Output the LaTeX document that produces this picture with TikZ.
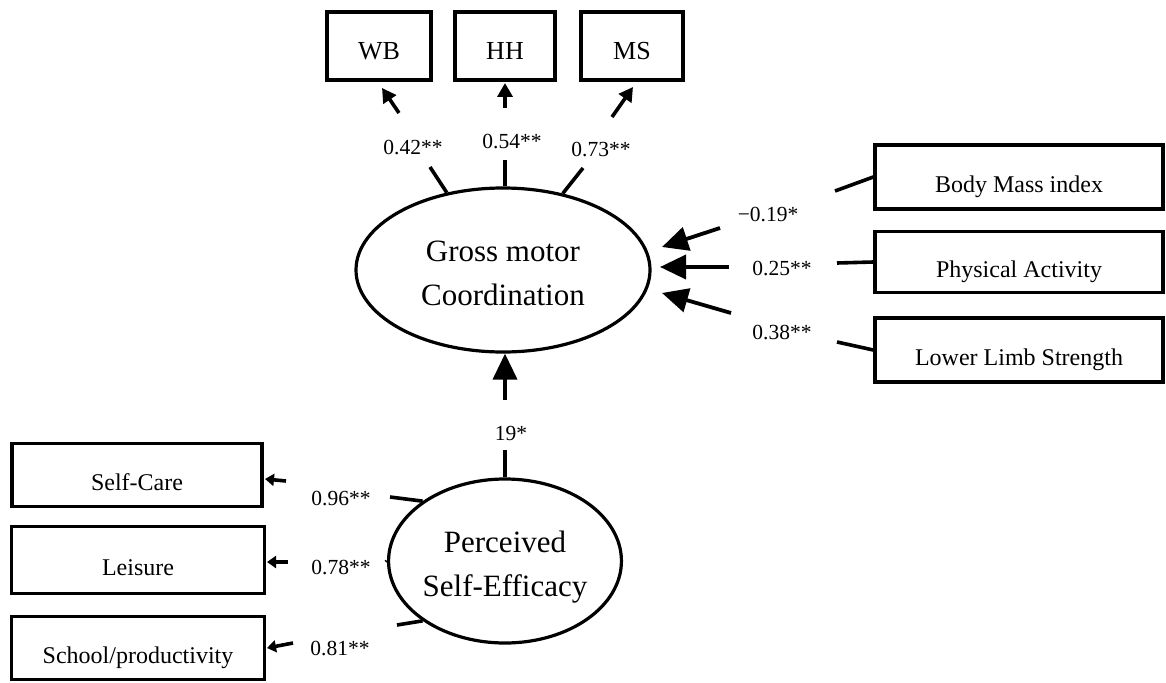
\documentclass[tikz,border=0pt]{standalone}
\usepackage{fontspec}
\setmainfont{Liberation Serif}
\usetikzlibrary{arrows.meta,shapes.geometric}
\begin{document}
\begin{tikzpicture}[x=1pt,y=-1pt,
  box/.style={draw, line width=3.4pt, rectangle, inner sep=0pt, text depth=0pt},
  smallbox/.style={box, minimum width=102pt, minimum height=68pt, text height=27pt, font=\fontsize{26}{30}\selectfont},
  rbox/.style={box, minimum width=288pt, text height=30pt, font=\fontsize{24}{28}\selectfont},
  lbox/.style={box, text height=30pt, font=\fontsize{24}{28}\selectfont},
  latent/.style={draw, line width=3.2pt, ellipse, inner sep=0pt, align=center, font=\fontsize{31}{44}\selectfont},
  lbl/.style={inner sep=0pt, font=\fontsize{21.5}{25}\selectfont},
  seg/.style={line width=3.6pt},
  bigarr/.style={line width=3.8pt, -{Triangle[length=26pt,width=24pt]}},
  midarr/.style={line width=3.6pt, -{Triangle[length=14pt,width=15pt]}},
  smallarr/.style={line width=3.6pt, -{Triangle[length=9pt,width=12pt]}},
]
\useasboundingbox (0,0) rectangle (1166,682);

% indicator boxes (top)
\node[smallbox, minimum width=104pt] (wb) at (379,46) {WB};
\node[smallbox, minimum width=100pt] (hh) at (505,46) {HH};
\node[smallbox] (ms) at (632,46) {MS};

% predictor boxes (right)
\node[rbox, minimum height=64pt] (bmi) at (1019,177) {Body Mass index};
\node[rbox, minimum height=61pt] (pa) at (1019,262) {Physical Activity};
\node[rbox, minimum height=64pt] (lls) at (1019,350) {Lower Limb Strength};

% indicator boxes (left)
\node[lbox, minimum width=250pt, minimum height=63pt] (sc) at (137,475) {Self-Care};
\node[lbox, minimum width=253pt, minimum height=67pt] (le) at (138,560) {Leisure};
\node[lbox, minimum width=253pt, minimum height=63pt] (so) at (138,648) {School/productivity};

% latent variables
\node[latent, minimum width=294pt, minimum height=164pt] (gmc) at (503,270) {\rule{0pt}{28pt}Gross motor\\Coordination};
\node[latent, minimum width=230pt, minimum height=164pt] (pse) at (505,561) {\rule{0pt}{34.5pt}Perceived\\Self-Efficacy};

% coefficient labels
\node[lbl] (lwb) at (413,148) {0.42**};
\node[lbl] (lhh) at (512,142) {0.54**};
\node[lbl] (lms) at (601,150) {0.73**};
\node[lbl] (lbmi) at (768,215) {\char"2212 0.19*};
\node[lbl] (lpa) at (782,269) {0.25**};
\node[lbl] (llls) at (782,332) {0.38**};
\node[lbl] (lup) at (511,433) {19*};
\node[lbl] (lsc) at (341,498) {0.96**};
\node[lbl] (lle) at (341,567) {0.78**};
\node[lbl] (lso) at (340,648) {0.81**};

% segment ends
\coordinate (wb1) at (430,167);  \coordinate (wb2) at (399,113); \coordinate (wbt) at (382,88);
\coordinate (hh1) at (505,160);  \coordinate (hh2) at (505,108); \coordinate (hht) at (505,83);
\coordinate (ms1) at (583,168);  \coordinate (ms2) at (612,117); \coordinate (mst) at (633,87);
\coordinate (bm1) at (835,191);  \coordinate (bm2) at (720,228); \coordinate (bmt) at (662,247);
\coordinate (pa1) at (837,263);  \coordinate (pa2) at (729,267); \coordinate (pat) at (660,267);
\coordinate (ll1) at (837,342);  \coordinate (ll2) at (731,313); \coordinate (llt) at (662,293);
\coordinate (up0) at (505,450);  \coordinate (up1) at (505,400);
\coordinate (sc1) at (390,497);  \coordinate (sc2) at (286,481); \coordinate (sct) at (265,479);
\coordinate (le1) at (386,562);  \coordinate (le2) at (288,562); \coordinate (let) at (267,562);
\coordinate (so1) at (397,625);  \coordinate (so2) at (293,643); \coordinate (sot) at (267,648);

% GMC -> indicators
\draw[seg] (gmc.126) -- (wb1);
\draw[midarr] (wb2) -- (wbt);
\draw[seg] (gmc.north -| hh1) -- (hh1);
\draw[midarr] (hh2) -- (hht);
\draw[seg] (gmc.52) -- (ms1);
\draw[midarr] (ms2) -- (mst);

% predictors -> GMC
\draw[seg] (bmi.west) -- (bm1);
\draw[bigarr] (bm2) -- (bmt);
\draw[seg] (pa.west) -- (pa1);
\draw[bigarr] (pa2) -- (pat);
\draw[seg] (lls.west) -- (ll1);
\draw[bigarr] (ll2) -- (llt);

% PSE -> GMC
\draw[seg] (pse.north -| up0) -- (up0);
\draw[bigarr] (up1) -- (gmc.south -| up1);

% PSE -> indicators
\draw[seg] (pse.144) -- (sc1);
\draw[smallarr] (sc2) -- (sct);
\draw[seg] (pse.west) -- (le1);
\draw[smallarr] (le2) -- (let);
\draw[seg] (pse.216) -- (so1);
\draw[smallarr] (so2) -- (sot);
\end{tikzpicture}
\end{document}
